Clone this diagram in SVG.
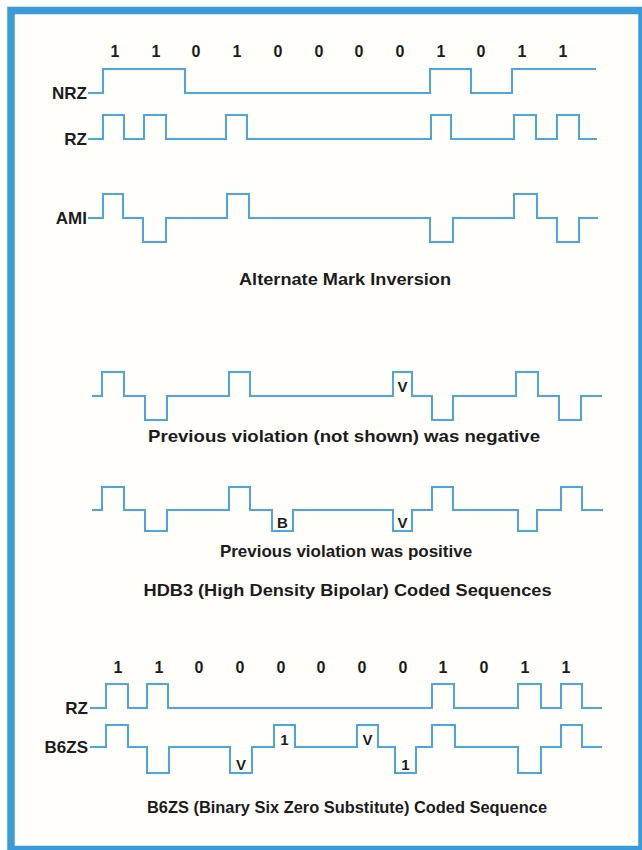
<svg xmlns="http://www.w3.org/2000/svg" width="642" height="850" viewBox="0 0 642 850">
  <style>
    .wave { fill: none; stroke: #4aa6dc; stroke-width: 2; stroke-linejoin: miter; }
    .t { font-family: "Liberation Sans", Arial, sans-serif; font-weight: bold; fill: #1c1c1c; }
    .lbl { font-size: 17px; text-anchor: end; }
    .dig { font-size: 16px; text-anchor: middle; }
    .cap { font-size: 17px; text-anchor: middle; }
    .mk { font-size: 15px; text-anchor: middle; }
  </style>
  <rect x="0" y="0" width="642" height="850" fill="#ffffff"/>
  <rect id="frame" x="11" y="10.5" width="631" height="839" fill="#fffefa" stroke="#3b9ad8" stroke-width="7.5"/>

  <g id="digits-top" class="t dig">
    <text x="115" y="57">1</text>
    <text x="156" y="57">1</text>
    <text x="196" y="57">0</text>
    <text x="237" y="57">1</text>
    <text x="278" y="57">0</text>
    <text x="319" y="57">0</text>
    <text x="359" y="57">0</text>
    <text x="400" y="57">0</text>
    <text x="441" y="57">1</text>
    <text x="481" y="57">0</text>
    <text x="522" y="57">1</text>
    <text x="563" y="57">1</text>
  </g>

  <g id="nrz">
    <text class="t lbl" x="87" y="99">NRZ</text>
    <path class="wave" d="M88,93 H103 V69 H185 V93 H430 V69 H471 V93 H512 V69 H596"/>
  </g>
  <g id="rz">
    <text class="t lbl" x="87" y="145">RZ</text>
    <path class="wave" d="M88,139 H103 V115 H124 V139 H144 V115 H166 V139 H226 V115 H247 V139 H431 V115 H451 V139 H514 V115 H536 V139 H557 V115 H579 V139 H597"/>
  </g>
  <g id="ami">
    <text class="t lbl" x="87" y="224">AMI</text>
    <path class="wave" d="M88,218 H103 V194 H123 V218 H143 V242 H166 V218 H227 V194 H249 V218 H430 V242 H453 V218 H514 V194 H537 V218 H557 V242 H579 V218 H598"/>
  </g>
  <text id="cap-ami" class="t cap" x="345" y="285" textLength="212" lengthAdjust="spacingAndGlyphs">Alternate Mark Inversion</text>

  <g id="hdb3-neg">
    <path class="wave" d="M92,396 H102 V372 H124 V396 H145 V420 H167 V396 H229 V372 H250 V396 H393 V372 H412 V396 H432 V420 H453 V396 H516 V372 H538 V396 H559 V420 H581 V396 H602"/>
    <text class="t mk" x="402.5" y="392">V</text>
  </g>
  <text id="cap-neg" class="t cap" x="344" y="442" textLength="392" lengthAdjust="spacingAndGlyphs">Previous violation (not shown) was negative</text>

  <g id="hdb3-pos">
    <path class="wave" d="M92,510 H102 V487 H124 V510 H145 V531 H167 V510 H229 V487 H250 V510 H272 V531 H293 V510 H393 V531 H412 V510 H432 V487 H453 V510 H518 V531 H537 V510 H561 V487 H582 V510 H603"/>
    <text class="t mk" x="282.5" y="528">B</text>
    <text class="t mk" x="402.5" y="528">V</text>
  </g>
  <text id="cap-pos" class="t cap" x="346" y="557">Previous violation was positive</text>
  <text id="cap-hdb3" class="t cap" x="347.5" y="596" textLength="408" lengthAdjust="spacingAndGlyphs">HDB3 (High Density Bipolar) Coded Sequences</text>

  <g id="digits-bottom" class="t dig">
    <text x="118" y="673">1</text>
    <text x="159" y="673">1</text>
    <text x="199" y="673">0</text>
    <text x="240" y="673">0</text>
    <text x="281" y="673">0</text>
    <text x="321" y="673">0</text>
    <text x="362" y="673">0</text>
    <text x="403" y="673">0</text>
    <text x="443" y="673">1</text>
    <text x="484" y="673">0</text>
    <text x="525" y="673">1</text>
    <text x="566" y="673">1</text>
  </g>

  <g id="rz2">
    <text class="t lbl" x="88" y="714">RZ</text>
    <path class="wave" d="M90,708 H106 V684 H128 V708 H147 V684 H168 V708 H432 V684 H454 V708 H518 V684 H541 V708 H561 V684 H582 V708 H602"/>
  </g>
  <g id="b6zs">
    <text class="t lbl" x="88" y="753">B6ZS</text>
    <path class="wave" d="M90,747 H106 V725 H128 V747 H147 V773 H169 V747 H230 V773 H252 V747 H274 V725 H295 V747 H357 V725 H378 V747 H395 V773 H416 V747 H432 V725 H455 V747 H518 V773 H541 V747 H561 V725 H582 V747 H602"/>
    <text class="t mk" x="241" y="770">V</text>
    <text class="t mk" x="284.5" y="745">1</text>
    <text class="t mk" x="367.5" y="745">V</text>
    <text class="t mk" x="405.5" y="770">1</text>
  </g>
  <text id="cap-b6zs" class="t cap" x="347" y="813" textLength="400" lengthAdjust="spacingAndGlyphs">B6ZS (Binary Six Zero Substitute) Coded Sequence</text>
</svg>
